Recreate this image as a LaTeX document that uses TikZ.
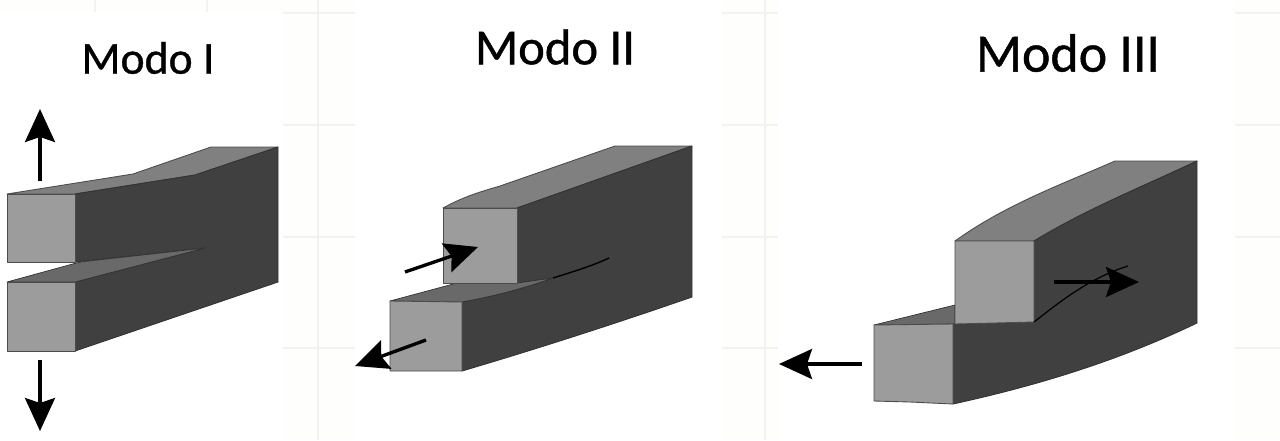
\documentclass[tikz,border=0pt]{standalone}
\usepackage{fontspec}
\setmainfont{Carlito}
\newfontfamily\modofont[FakeBold=0.8]{Carlito}
\usetikzlibrary{arrows.meta}
\definecolor{frontgray}{HTML}{9C9C9C}
\definecolor{topgray}{HTML}{808080}
\definecolor{sidegray}{HTML}{404040}
\definecolor{crackgray}{HTML}{696969}
\definecolor{gridgray}{HTML}{F2F2EF}
\definecolor{panelwhite}{HTML}{FEFEFC}
\tikzset{
	front/.style={fill=frontgray, draw=black!70, line width=0.5pt, line join=round},
	topface/.style={fill=topgray, draw=black!70, line width=0.5pt, line join=round},
	side/.style={fill=sidegray, draw=black!80, line width=0.5pt, line join=round},
	crackface/.style={fill=crackgray, draw=black!80, line width=0.4pt, line join=round},
	load/.style={line width=1.9pt, -{Stealth[length=33*0.02cm, width=30*0.02cm, inset=5*0.02cm]}},
	gridline/.style={draw=gridgray, line width=1.5pt},
	title/.style={anchor=center, inner sep=0pt}
}
\begin{document}
\begin{tikzpicture}[x=0.02cm, y=-0.02cm]
	\useasboundingbox (0,0) rectangle (1280,440);
	\fill[white] (0,0) rectangle (1280,440);
	% faint grid of the page behind
	\fill[panelwhite] (0,0) rectangle (283,12);
	\fill[panelwhite] (283,0) rectangle (355,440);
	\fill[panelwhite] (722,0) rectangle (778,440);
	\fill[panelwhite] (1235,0) rectangle (1280,440);
	\foreach \gx in {318,765} {\draw[gridline] (\gx,0) -- (\gx,440);}
	\foreach \gx in {95,207} {\draw[gridline] (\gx,0) -- (\gx,12);}
	\foreach \gy in {13,125,237,348} {
		\draw[gridline] (283,\gy) -- (355,\gy);
		\draw[gridline] (722,\gy) -- (778,\gy);
		\draw[gridline] (1235,\gy) -- (1280,\gy);
	}

	% Modo I
	\node[title, font=\modofont\fontsize{26}{28}\selectfont] (tituloI) at (148,58) {Modo I};
	\draw[topface] (7,194) -- (133,174) -- (211,147) -- (278,147) -- (195,175) -- (75,194) -- cycle;
	\draw[side] (75,194) -- (195,175) -- (278,147) -- (278,282) -- (75,351) -- (75,282)
		-- (205,248) -- (75,262) -- cycle;
	\draw[crackface] (7,282) -- (80,262) -- (205,248) -- (75,282) -- cycle;
	\draw[front] (7,194) rectangle (75,262);
	\draw[front] (7,282) rectangle (75,351);
	\coordinate (inicioA) at (40,181);
	\coordinate (fimA) at (40,109);
	\coordinate (inicioB) at (40,360);
	\coordinate (fimB) at (40,431);
	\draw[load] (inicioA) -- (fimA);
	\draw[load] (inicioB) -- (fimB);

	% Modo II
	\node[title, font=\modofont\fontsize{28.8}{31}\selectfont] (tituloII) at (555,47) {Modo II};
	\draw[topface] (443,208) .. controls (465,196) and (480,192) .. (500,186) -- (615,146) -- (692,146) -- (517,208) -- cycle;
	\draw[side] (517,208) -- (692,146) -- (692,297) .. controls (620,322) and (540,348) .. (462,371)
		-- (462,302) .. controls (495,296) and (525,288) .. (553,278) -- (517,283) -- cycle;
	\draw[crackface] (390,301) -- (457,283) -- (517,283) -- (553,278)
		.. controls (525,288) and (495,296) .. (462,302) -- cycle;
	\coordinate (fendaII) at (609,258);
	\coordinate (inicioFendaII) at (553,278);
	\draw[black, line width=0.8pt] (inicioFendaII) .. controls (572,272) and (592,266) .. (fendaII);
	\draw[front] (443,208) rectangle (517,283);
	\draw[front] (390,301) -- (462,302) -- (462,371) -- (390,371) -- cycle;
	\coordinate (inicioC) at (405,272);
	\coordinate (fimC) at (478,247);
	\coordinate (inicioD) at (426,340);
	\coordinate (fimD) at (355,366);
	\draw[load] (inicioC) -- (fimC);
	\draw[load] (inicioD) -- (fimD);

	% Modo III
	\node[title, font=\modofont\fontsize{30.7}{33}\selectfont] (tituloIII) at (1068,53) {Modo III};
	\draw[topface] (955,241) .. controls (1005,205) and (1060,185) .. (1115,161) -- (1197,161)
		.. controls (1135,190) and (1085,210) .. (1034,241) -- cycle;
	\draw[side] (1034,241) .. controls (1085,210) and (1135,190) .. (1197,161) -- (1197,323)
		.. controls (1120,360) and (1040,385) .. (953,404) -- (953,324) -- (1034,322) -- cycle;
	\draw[crackface] (874,325) -- (955,305) -- (955,324) -- cycle;
	\draw[front] (955,241) -- (1034,241) -- (1034,322) -- (955,324) -- cycle;
	\draw[front] (874,325) -- (953,324) -- (953,404) -- (910,402) -- (874,401) -- cycle;
	\coordinate (fendaIII) at (1128,266);
	\coordinate (cantoIII) at (1034,322);
	\draw[black, line width=0.7pt] (cantoIII) .. controls (1062,300) and (1090,278) .. (fendaIII);
	\coordinate (inicioE) at (1054,282);
	\coordinate (fimE) at (1139,282);
	\coordinate (inicioF) at (862,364);
	\coordinate (fimF) at (779,364);
	\draw[load] (inicioE) -- (fimE);
	\draw[load] (inicioF) -- (fimF);
\end{tikzpicture}
\end{document}
